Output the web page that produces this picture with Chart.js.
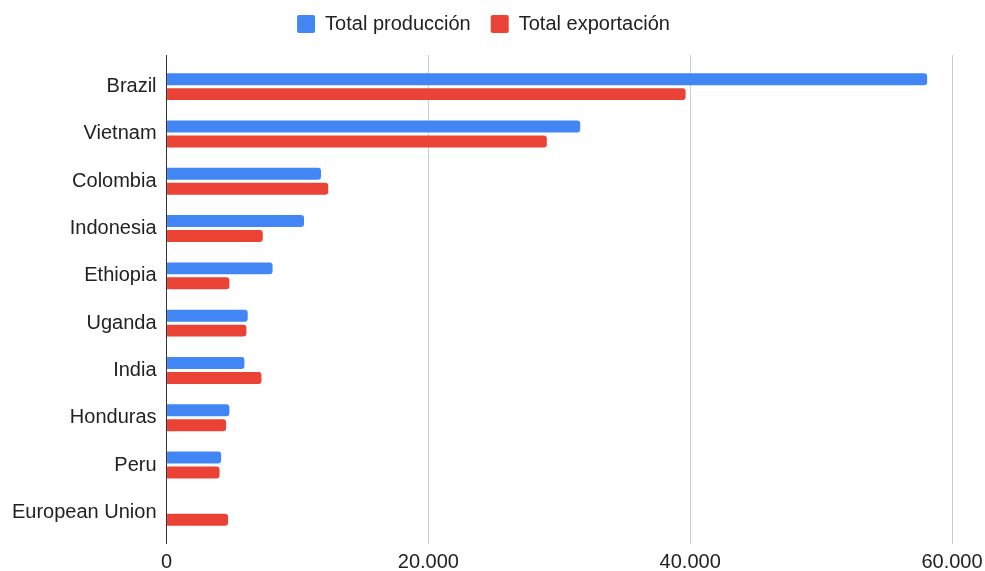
<!DOCTYPE html>
<html lang="es">
<head>
  <meta charset="UTF-8">
  <title>Producción y exportación de café</title>
  <style>
    body {
      margin: 0;
      background: #fff;
    }

    #chart-container {
      width: 985px;
      height: 571px;
    }
  </style>
</head>
<body>
  <div id="chart-container">
    <canvas id="barChart"></canvas>
  </div>

  <script src="https://cdn.jsdelivr.net/npm/chart.js"></script>
  <script>
    const paises = ['Brazil', 'Vietnam', 'Colombia', 'Indonesia', 'Ethiopia', 'Uganda', 'India', 'Honduras', 'Peru', 'European Union'];
    const produccion = [58100, 31600, 11800, 10500, 8100, 6200, 5950, 4800, 4170, null];
    const exportacion = [39650, 29050, 12350, 7350, 4800, 6100, 7250, 4550, 4050, 4700];
    const ticksX = [0, 20000, 40000, 60000];

    const fuente = '"Liberation Sans", Arial, sans-serif';

    // 20000 -> "20.000"
    function formatoMiles(v) {
      return String(v).replace(/\B(?=(\d{3})+(?!\d))/g, '.');
    }

    // la línea del 0 hace de eje, el resto de la rejilla en gris
    function colorRejilla(ctx) {
      return ctx.tick && ctx.tick.value === 0 ? '#333' : '#ccc';
    }

    // más aire entre la leyenda y el gráfico, y leyenda algo desplazada a la izquierda
    const ajusteLeyenda = {
      id: 'ajusteLeyenda',
      beforeInit(chart) {
        const fitOriginal = chart.legend.fit;
        chart.legend.fit = function () {
          fitOriginal.bind(chart.legend)();
          this.height += 11;
        };
      },
      afterLayout(chart) {
        chart.legend.left -= 10;
        chart.legend.right -= 10;
      }
    };

    const ctx = document.getElementById('barChart');
    new Chart(ctx, {
      type: 'bar',
      data: {
        labels: paises,
        datasets: [{
          label: 'Total producción',
          data: produccion,
          backgroundColor: '#4285f4',
          borderRadius: 3,
          borderSkipped: 'start'
        },
        {
          label: 'Total exportación',
          data: exportacion,
          backgroundColor: '#ea4335',
          borderRadius: 3,
          borderSkipped: 'start'
        }]
      },
      options: {
        indexAxis: 'y',
        responsive: true,
        maintainAspectRatio: false,
        animation: false,
        datasets: {
          bar: {
            categoryPercentage: 0.633,
            barPercentage: 0.8
          }
        },
        layout: {
          padding: { top: -6, left: 2, right: 0, bottom: -9 }
        },
        plugins: {
          tooltip: { enabled: false },
          legend: {
            position: 'top',
            labels: {
              font: { family: fuente, size: 20 },
              color: '#222',
              boxWidth: 18,
              boxHeight: 18,
              useBorderRadius: true,
              borderRadius: 2,
              padding: 20
            }
          }
        },
        scales: {
          x: {
            type: 'linear',
            position: 'bottom',
            min: 0,
            max: 60000,
            afterBuildTicks: (scale) => {
              scale.ticks = ticksX.map(v => ({ value: v }));
            },
            // la etiqueta "60.000" puede pegarse al borde derecho
            afterFit: (scale) => {
              scale.paddingRight = 33;
            },
            border: { display: false },
            grid: {
              color: colorRejilla,
              lineWidth: 1,
              drawTicks: true,
              tickLength: 8
            },
            ticks: {
              padding: 8,
              color: '#222',
              font: { family: fuente, size: 20, lineHeight: 1 },
              callback: (v) => formatoMiles(v)
            }
          },
          // eje superior vacío: solo alarga la rejilla por arriba
          xTop: {
            type: 'linear',
            axis: 'x',
            position: 'top',
            min: 0,
            max: 60000,
            afterBuildTicks: (scale) => {
              scale.ticks = ticksX.map(v => ({ value: v }));
            },
            border: { display: false },
            grid: {
              color: colorRejilla,
              drawOnChartArea: false,
              drawTicks: true,
              tickLength: 8
            },
            ticks: { display: false }
          },
          y: {
            border: { display: false },
            grid: { display: false, drawTicks: false },
            ticks: {
              padding: 10,
              color: '#222',
              font: { family: fuente, size: 20 }
            }
          }
        }
      },
      plugins: [ajusteLeyenda]
    });
  </script>
</body>
</html>
